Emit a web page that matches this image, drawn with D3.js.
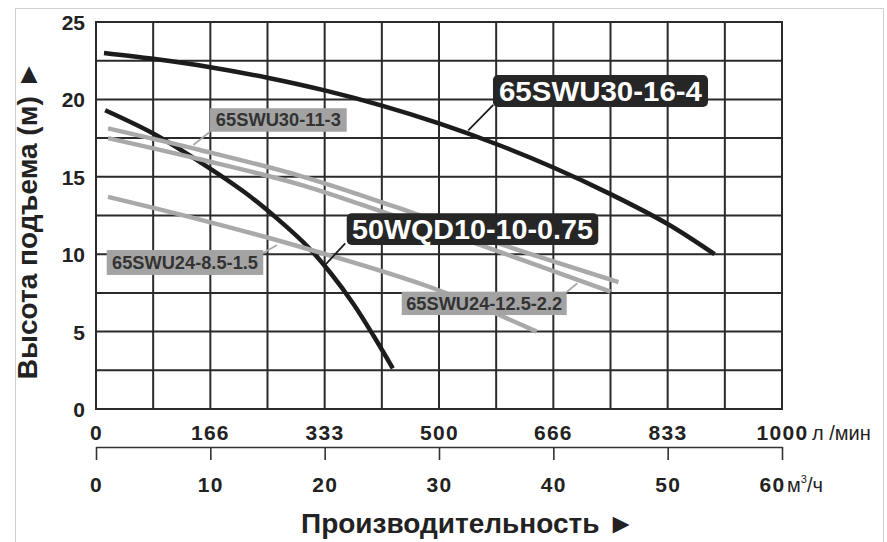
<!DOCTYPE html>
<html><head><meta charset="utf-8">
<script src="https://cdn.jsdelivr.net/npm/d3@7/dist/d3.min.js"></script>
<style>
html,body{margin:0;padding:0;background:#fff;}
svg{display:block;font-family:"Liberation Sans",Arial,Helvetica,sans-serif;}
</style></head>
<body>
<svg id="c" width="887" height="542"></svg>
<script>
// ---- tick labels ----
const flowM3hTicks = [0, 10, 20, 30, 40, 50, 60];
const flowLminTicks = [0, 166, 333, 500, 666, 833, 1000];
const headTicks = [0, 5, 10, 15, 20, 25];

// ---- series (Q in m³/h, H in m) ----
const q65SWU30_16_4 = [0.7, 5, 10, 15, 20, 25, 30, 35, 40, 45, 50, 54.1];
const h65SWU30_16_4 = [23.0, 22.62, 22.08, 21.4, 20.58, 19.6, 18.45, 17.12, 15.6, 13.88, 11.95, 10.0];

const q50WQD10_10_075 = [0.8, 5, 9, 13, 16, 18.5, 20.5, 22.5, 24.3, 25.96];
const h50WQD10_10_075 = [19.3, 17.8, 16.0, 14.0, 12.2, 10.5, 8.8, 6.8, 4.7, 2.63];

const q65SWU30_11_3 = [1.05, 9, 17.85, 26, 35.6, 45.7];
const h65SWU30_11_3 = [18.13, 16.75, 15.06, 13.1, 10.6, 8.2];

const q65SWU24_125_22 = [1.05, 9, 17.85, 26, 33.6, 45.0];
const h65SWU24_125_22 = [17.5, 16.15, 14.5, 12.5, 10.6, 7.58];

const q65SWU24_85_15 = [1.05, 9, 17.85, 29.5, 38.55];
const h65SWU24_85_15 = [13.7, 12.25, 10.48, 7.8, 5.0];

const seriesNames = ["65SWU30-16-4", "50WQD10-10-0.75", "65SWU30-11-3", "65SWU24-12.5-2.2", "65SWU24-8.5-1.5"];

const svg = d3.select("#c");
const x = d3.scaleLinear().domain([0, 60]).range([96, 782]);
const xl = d3.scaleLinear().domain([0, 1000]).range([96, 782]);
const y = d3.scaleLinear().domain([0, 25]).range([409, 22]);

// outer light frame
svg.append("rect").attr("x", 15.5).attr("y", 8.5).attr("width", 868).attr("height", 560)
  .attr("fill", "none").attr("stroke", "#cfcfcf").attr("stroke-width", 1);

// grid
const gridColor = "#2a2a2a";
const g = svg.append("g");
g.selectAll(".gx").data(d3.range(0, 60.01, 5)).join("line")
  .attr("x1", d => x(d)).attr("x2", d => x(d)).attr("y1", y(0)).attr("y2", y(25))
  .attr("stroke", gridColor).attr("stroke-width", 2);
g.selectAll(".gy").data(d3.range(0, 25.01, 2.5)).join("line")
  .attr("y1", d => y(d)).attr("y2", d => y(d)).attr("x1", x(0) - 1).attr("x2", x(60) + 1)
  .attr("stroke", gridColor).attr("stroke-width", 2);

// y axis labels
const yAx = svg.append("g").attr("transform", `translate(${x(0)},0)`)
  .call(d3.axisLeft(y).tickValues(headTicks).tickSize(0).tickPadding(11));
yAx.select(".domain").remove();
yAx.selectAll("text").attr("font-size", 21).attr("font-weight", "bold").attr("fill", "#222")
  .attr("font-family", "Liberation Sans, Arial, sans-serif").attr("dy", "0.36em");

// x axis row 1 (л/мин)
const xAx1 = svg.append("g").attr("transform", `translate(0,${y(0)})`)
  .call(d3.axisBottom(xl).tickValues(flowLminTicks).tickFormat(d3.format("d")).tickSize(0).tickPadding(0));
xAx1.select(".domain").remove();
xAx1.selectAll("text").attr("y", 30.5).attr("dy", 0).attr("font-size", 21).attr("font-weight", "bold")
  .attr("fill", "#222").attr("letter-spacing", "1.3px")
  .attr("font-family", "Liberation Sans, Arial, sans-serif");
svg.append("text").attr("x", 812).attr("y", 439.5).attr("font-size", 20).attr("fill", "#222")
  .text("л /мин");

// x axis row 2 (м³/ч)
const xAx2 = svg.append("g").attr("transform", `translate(0,447)`)
  .call(d3.axisBottom(x).tickValues(flowM3hTicks).tickFormat(d3.format("d")).tickSize(13).tickSizeOuter(0).tickPadding(0));
xAx2.select(".domain").attr("stroke", "#333").attr("stroke-width", 1.6);
xAx2.selectAll(".tick line").attr("stroke", "#333").attr("stroke-width", 1.6);
xAx2.selectAll("text").attr("y", 44.5).attr("dy", 0).attr("font-size", 21).attr("font-weight", "bold")
  .attr("fill", "#222").attr("letter-spacing", "1.3px")
  .attr("font-family", "Liberation Sans, Arial, sans-serif");
xAx2.selectAll(".tick").filter(d => d === 60).select("text").attr("text-anchor", "end").attr("dx", 3);
const unit2 = svg.append("text").attr("x", 787).attr("y", 491.5).attr("font-size", 20).attr("fill", "#222");
unit2.append("tspan").text("м");
unit2.append("tspan").attr("font-size", 11).attr("dy", -9).text("3");
unit2.append("tspan").attr("dy", 9).text("/ч");

// axis titles
svg.append("text").attr("transform", `translate(37,220) rotate(-90)`).attr("text-anchor", "middle")
  .attr("font-size", 28).attr("font-weight", "bold").attr("fill", "#222")
  .text("Высота подъема (м) ►");
svg.append("text").attr("x", 468).attr("y", 533).attr("text-anchor", "middle")
  .attr("font-size", 28).attr("font-weight", "bold").attr("fill", "#222")
  .text("Производительность ►");

// curves
const line = d3.line().x(d => x(d[0])).y(d => y(d[1])).curve(d3.curveCatmullRom.alpha(0.5));
const zip = (a, b) => a.map((v, i) => [v, b[i]]);
const dark = "#1c1c1c", grey = "#a9a9a9";
const curves = [
  {pts: zip(q65SWU30_16_4, h65SWU30_16_4), color: dark},
  {pts: zip(q50WQD10_10_075, h50WQD10_10_075), color: dark},
  {pts: zip(q65SWU30_11_3, h65SWU30_11_3), color: grey},
  {pts: zip(q65SWU24_125_22, h65SWU24_125_22), color: grey},
  {pts: zip(q65SWU24_85_15, h65SWU24_85_15), color: grey}
];
svg.append("g").selectAll("path").data(curves).join("path")
  .attr("d", d => line(d.pts)).attr("fill", "none").attr("stroke", d => d.color)
  .attr("stroke-width", 4.5);

// labels: box corners [q0,h0,q1,h1], leader [qa,ha,qb,hb]
const labels = [
  {t: seriesNames[0], dark: true, box: [34.72, 21.58, 53.53, 19.51], lead: [34.75, 19.64, 32.56, 18.0], fs: 28, tl: 203},
  {t: seriesNames[1], dark: true, box: [21.93, 12.64, 43.93, 10.59], lead: [21.8, 10.70, 20.03, 9.30], fs: 28, tl: 241},
  {t: seriesNames[2], dark: false, box: [9.97, 19.43, 21.93, 17.91], lead: [9.97, 17.91, 8.51, 17.05], fs: 17.5, tl: 125},
  {t: seriesNames[3], dark: false, box: [26.74, 7.58, 41.17, 6.07], lead: [41.17, 7.56, 42.1, 8.12], fs: 17.5, tl: 156},
  {t: seriesNames[4], dark: false, box: [0.94, 10.27, 14.63, 8.66], lead: [14.63, 10.08, 15.83, 10.59], fs: 17.5, tl: 146}
];
const lg = svg.append("g");
labels.forEach(l => {
  lg.append("line").attr("x1", x(l.lead[0])).attr("y1", y(l.lead[1])).attr("x2", x(l.lead[2])).attr("y2", y(l.lead[3]))
    .attr("stroke", l.dark ? dark : grey).attr("stroke-width", 1.8);
  const x0 = x(l.box[0]), y0 = y(l.box[1]), x1 = x(l.box[2]), y1 = y(l.box[3]);
  lg.append("rect").attr("x", x0).attr("y", y0).attr("width", x1 - x0).attr("height", y1 - y0)
    .attr("rx", l.dark ? 5 : 0).attr("fill", l.dark ? "#262626" : "#a3a3a3");
  lg.append("text").attr("x", (x0 + x1) / 2).attr("y", (y0 + y1) / 2).attr("dy", "0.36em")
    .attr("text-anchor", "middle").attr("font-size", l.fs).attr("font-weight", "bold")
    .attr("fill", l.dark ? "#fff" : "#333")
    .attr("textLength", l.tl).attr("lengthAdjust", "spacingAndGlyphs").text(l.t);
});
</script>
</body></html>
